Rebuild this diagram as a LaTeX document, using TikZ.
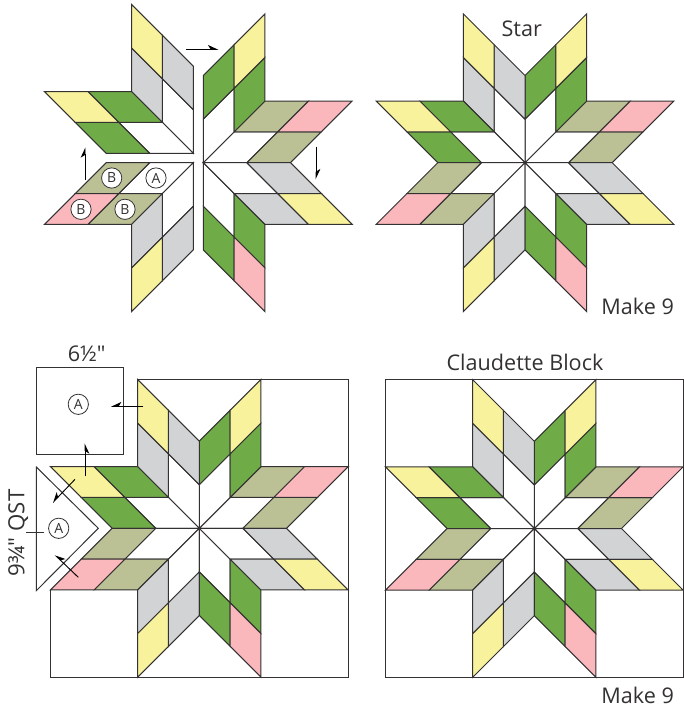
\documentclass[tikz,border=0pt]{standalone}
\usepackage{fontspec}
\setmainfont{Open Sans}[Ligatures=TeXOff]
\usepackage{tikz}
\usetikzlibrary{arrows.meta,calc,positioning}

% one star point: its four diamonds between two neighbouring directions
\newcommand{\starpoint}[4]{%
  \begin{scope}[x={(45*#1:32.7pt)},y={(45*#1+45:32.7pt)}]
    \draw[patch,fill=white] (0,0) -- (1,0) -- (1,1) -- (0,1) -- cycle;
    \draw[patch,fill=#2] (1,0) -- (2,0) -- (2,1) -- (1,1) -- cycle;
    \draw[patch,fill=#3] (0,1) -- (1,1) -- (1,2) -- (0,2) -- cycle;
    \draw[patch,fill=#4] (1,1) -- (2,1) -- (2,2) -- (1,2) -- cycle;
  \end{scope}}

\definecolor{quiltyellow}{HTML}{F7F29B}
\definecolor{quiltgreen}{HTML}{6FAB47}
\definecolor{quiltgray}{HTML}{D1D3D4}
\definecolor{quiltkhaki}{HTML}{BBC095}
\definecolor{quiltpink}{HTML}{FAB7BC}
\definecolor{quiltline}{HTML}{333132}

\newcommand{\allpoints}{0/quiltkhaki/quiltkhaki/quiltpink,
  1/quiltgreen/quiltgreen/quiltyellow,
  2/quiltgray/quiltgray/quiltyellow,
  3/quiltgreen/quiltgreen/quiltyellow,
  4/quiltkhaki/quiltkhaki/quiltpink,
  5/quiltgray/quiltgray/quiltyellow,
  6/quiltgreen/quiltgreen/quiltpink,
  7/quiltgray/quiltgray/quiltyellow}

\begin{document}
\begin{tikzpicture}[
    x=0.75pt,y=-0.75pt,
    patch/.style={draw=quiltline, line width=0.75pt},
    frame/.style={draw=quiltline, line width=0.75pt, fill=white},
    move/.style={draw=black, line width=0.7pt, -{Stealth[harpoon,length=7pt,width=6.5pt,inset=2pt]}},
    moveswap/.style={draw=black, line width=0.7pt, -{Stealth[harpoon,swap,length=7pt,width=6.5pt,inset=2pt]}},
    piece/.style={draw=quiltline, line width=0.6pt, circle, fill=white, minimum size=15.2pt,
      inner sep=0pt, font=\fontsize{10.5pt}{12pt}\selectfont, text=quiltline},
    label/.style={font=\fontsize{16.2pt}{18pt}\selectfont, text=quiltline, inner sep=0pt},
]
\useasboundingbox (0,0) rectangle (683,706);

% ---------------------------------------------------------
% Star pulled apart into quarters
% ---------------------------------------------------------
\begin{scope}[shift={(203.3,162.7)}]
  \starpoint{0}{quiltkhaki}{quiltkhaki}{quiltpink}
  \starpoint{1}{quiltgreen}{quiltgreen}{quiltyellow}
  \starpoint{6}{quiltgreen}{quiltgreen}{quiltpink}
  \starpoint{7}{quiltgray}{quiltgray}{quiltyellow}
\end{scope}
\begin{scope}[shift={(193.3,153.3)}]
  \starpoint{2}{quiltgray}{quiltgray}{quiltyellow}
  \starpoint{3}{quiltgreen}{quiltgreen}{quiltyellow}
\end{scope}
\begin{scope}[shift={(193.3,162.7)}]
  \starpoint{4}{quiltkhaki}{quiltkhaki}{quiltpink}
  \starpoint{5}{quiltgray}{quiltgray}{quiltyellow}
\end{scope}

\node[piece] (pieceA) at (156,178) {A};
\node[piece] (pieceB1) at (111.7,178) {B};
\node[piece] (pieceB2) at (125,209.3) {B};
\node[piece] (pieceB3) at (81,209.3) {B};

\coordinate (topfrom) at (186,49.3);
\coordinate (topto) at (218.3,49.3);
\coordinate (leftfrom) at (85,180);
\coordinate (leftto) at (85,147.3);
\coordinate (rightfrom) at (316,146.7);
\coordinate (rightto) at (316,179.3);
\draw[move] (topfrom) -- (topto);
\draw[move] (leftfrom) -- (leftto);
\draw[move] (rightfrom) -- (rightto);

% ---------------------------------------------------------
% Finished star
% ---------------------------------------------------------
\begin{scope}[shift={(525,162.7)}]
  \foreach \k/\ca/\cb/\cc in \allpoints
    {\starpoint{\k}{\ca}{\cb}{\cc}}
\end{scope}
\node[label] (startitle) at (521.7,28.3) {Star};
\node[label] (starmake) at (637.7,306) {Make 9};

% ---------------------------------------------------------
% Block with its background pieces set aside
% ---------------------------------------------------------
\begin{scope}[shift={(199.3,528.3)}]
  \draw[frame] (-61.6,-149) -- (149,-149) -- (149,149) -- (-149,149) -- (-149,61.6);
  \foreach \k/\ca/\cb/\cc in \allpoints
    {\starpoint{\k}{\ca}{\cb}{\cc}}
\end{scope}

\draw[frame] (36.3,367.3) rectangle (123.7,454.7);
\draw[frame] (36.3,467) -- (98.3,528.3) -- (36.3,590.7) -- cycle;
\node[piece] (squareA) at (78.3,404.3) {A};
\node[piece] (triangleA) at (58.7,528.3) {A};
\coordinate (dimstart) at (26,532);
\draw[patch] (dimstart) -- (44,532);
\node[label] (squaresize) at (86.7,353.3) {6½"};
\node[label,rotate=90,font=\fontsize{16.7pt}{18pt}\selectfont] (trianglesize) at (18.3,532.8) {9¾" QST};

\coordinate (cornerfrom) at (143.3,406.3);
\coordinate (cornerto) at (111,406.3);
\coordinate (upfrom) at (85,475.7);
\coordinate (upto) at (85,443.3);
\coordinate (sidefrom) at (75,479.3);
\coordinate (sideto) at (52.7,502.7);
\coordinate (backfrom) at (78.3,577.3);
\coordinate (backto) at (55,555);
\draw[moveswap] (cornerfrom) -- (cornerto);
\draw[moveswap] (upfrom) -- (upto);
\draw[moveswap] (sidefrom) -- (sideto);
\draw[moveswap] (backfrom) -- (backto);

% ---------------------------------------------------------
% Finished block
% ---------------------------------------------------------
\begin{scope}[shift={(534.3,528.5)}]
  \draw[frame] (-149,-149) rectangle (149,149);
  \foreach \k/\ca/\cb/\cc in \allpoints
    {\starpoint{\k}{\ca}{\cb}{\cc}}
\end{scope}
\node[label] (blocktitle) at (525,362.3) {Claudette Block};
\node[label] (blockmake) at (637.7,695) {Make 9};
\end{tikzpicture}
\end{document}
